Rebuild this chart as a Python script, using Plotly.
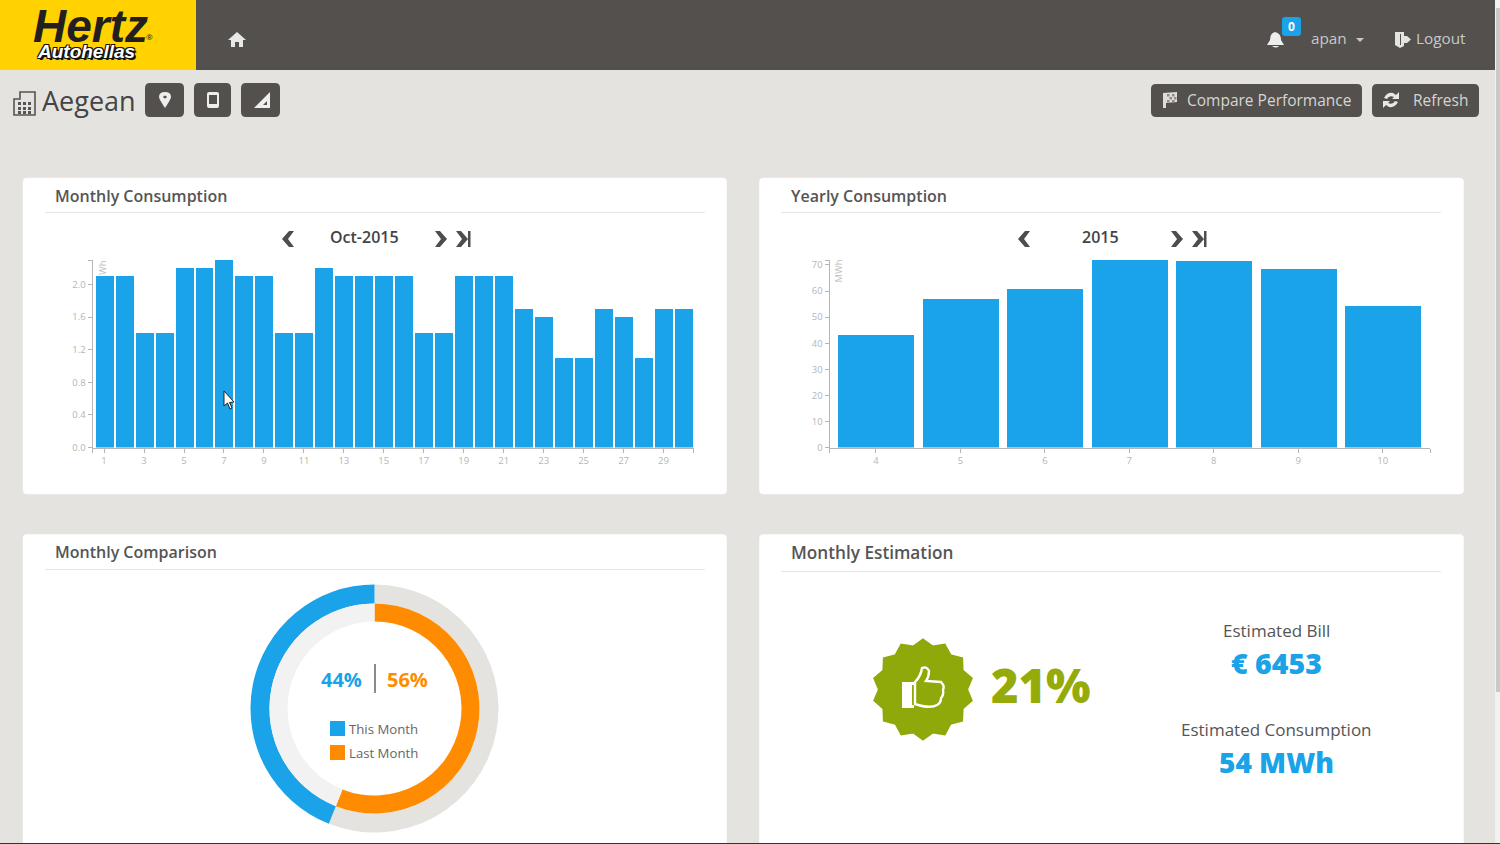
import math
import re
import plotly.graph_objects as go

days = list(range(1, 31))
monthly_kwh = [2.1, 2.1, 1.4, 1.4, 2.2, 2.2, 2.3, 2.1, 2.1, 1.4, 1.4, 2.2, 2.1, 2.1, 2.1,
               2.1, 1.4, 1.4, 2.1, 2.1, 2.1, 1.7, 1.6, 1.1, 1.1, 1.7, 1.6, 1.1, 1.7, 1.7]
months = [4, 5, 6, 7, 8, 9, 10]
yearly_mwh = [43.2, 57.1, 60.6, 72, 71.4, 68.5, 54.1]
this_month_pct = 44
last_month_pct = 56

day_ticks = [0.42, 1, 3, 5, 7, 9, 11, 13, 15, 17, 19, 21, 23, 25, 27, 29, 30.5]
day_labels = ['', '1', '3', '5', '7', '9', '11', '13', '15', '17', '19', '21', '23', '25', '27', '29', '']
kwh_ticks = [0, 0.4, 0.8, 1.2, 1.6, 2.0, 2.3]
kwh_labels = ['0.0', '0.4', '0.8', '1.2', '1.6', '2.0', '']
month_ticks = [3.45, 4, 5, 6, 7, 8, 9, 10, 10.56]
month_labels = ['', '4', '5', '6', '7', '8', '9', '10', '']
mwh_ticks = [0, 10, 20, 30, 40, 50, 60, 70, 71.9]
mwh_labels = ['0', '10', '20', '30', '40', '50', '60', '70', '']

W, H = 1500, 844
BLUE = '#1aa3e8'
ORANGE = '#ff8c00'
PAGE = '#e4e3df'
DARK = '#53504e'
ICON = '#4f4c4a'
LIGHT = '#d6d5d2'
GREEN = '#8fa80a'
FONT = 'Open Sans'


def px_x(x):
    return x / W


def px_y(y):
    return 1 - y / H


def to_paper(path):
    # path is written in page pixels, shapes want paper coordinates
    out = []
    nums = 0
    for tok in re.findall(r'[A-Za-z]|-?[\d.]+', path):
        if tok.isalpha():
            out.append(tok)
        else:
            v = float(tok)
            out.append(f'{px_x(v) if nums % 2 == 0 else px_y(v):.5f}')
            nums += 1
    return ' '.join(out)


shapes = []
annotations = []


def add_path(path, fill=None, line=None, width=0, layer='below'):
    shapes.append(dict(type='path', path=to_paper(path), xref='paper', yref='paper', layer=layer,
                       fillcolor=fill if fill else 'rgba(0,0,0,0)',
                       line=dict(color=line if line else 'rgba(0,0,0,0)', width=width)))


def rect(x0, y0, x1, y1, fill):
    shapes.append(dict(type='rect', xref='paper', yref='paper', layer='below',
                       x0=px_x(x0), x1=px_x(x1), y0=px_y(y0), y1=px_y(y1),
                       fillcolor=fill, line=dict(width=0)))


def round_rect(x0, y0, x1, y1, r, fill):
    add_path(f'M {x0+r} {y0} L {x1-r} {y0} Q {x1} {y0} {x1} {y0+r} L {x1} {y1-r} Q {x1} {y1} {x1-r} {y1} '
             f'L {x0+r} {y1} Q {x0} {y1} {x0} {y1-r} L {x0} {y0+r} Q {x0} {y0} {x0+r} {y0} Z', fill)


def text(x, y, s, size, color, anchor='left', weight=400, family=FONT, angle=0, style='normal', shadow=None):
    f = dict(family=family, size=size, color=color, weight=weight, style=style)
    if shadow:
        f['shadow'] = shadow
    annotations.append(dict(x=px_x(x), y=px_y(y), xref='paper', yref='paper', text=s, showarrow=False,
                            xanchor=anchor, yanchor='middle', textangle=angle, font=f,
                            borderpad=0, borderwidth=0))


# page frame
rect(0, 0, 1495, 70, DARK)
rect(0, 0, 196, 70, '#ffd200')
rect(1495, 0, W, H, '#f1f1f1')
rect(1496, 8, W, 692, '#c9c9c8')

# cards
for x0, y0, x1, y1 in [(23, 178, 726.5, 494), (759.5, 178, 1463.5, 494), (23, 534.5, 726.5, 860), (759.5, 534.5, 1463.5, 860)]:
    round_rect(x0 - 0.5, y0 - 0.5, x1 + 0.5, y1 + 0.5, 5, '#f2f1ee')
    round_rect(x0, y0, x1, y1, 4, '#ffffff')
rect(0, 843, W, H, '#333333')
rect(45, 212, 705, 213, '#e6e6e2')
rect(781, 212, 1441, 213, '#e6e6e2')
rect(45, 569, 705, 570, '#e6e6e2')
rect(781, 571, 1441, 572, '#e6e6e2')

text(55, 196, 'Monthly Consumption', 16, '#555555', weight=600)
text(791, 196, 'Yearly Consumption', 16, '#555555', weight=600)
text(55, 552, 'Monthly Comparison', 16, '#555555', weight=600)
text(791, 552.5, 'Monthly Estimation', 17.2, '#555555', weight=600)

# logo
text(33, 26.5, 'Hertz', 46, '#231f20', weight=800, style='italic', family='Liberation Sans')
text(37, 51, 'Autohellas', 19, '#ffffff', weight=800, style='italic', family='Liberation Sans',
     shadow='1px 1px 0 #111, -1px 1px 0 #111, 1px -1px 0 #111, -1px -1px 0 #111, 2px 2px 0 #111')
text(146, 36, '®', 8, '#231f20')

# top bar
add_path('M 237 32 L 246 40 L 243 40 L 243 47 L 239 47 L 239 42 L 235 42 L 235 47 L 231 47 L 231 40 L 228 40 Z', '#e8e8e6')
add_path('M 1275 32 Q 1281 33 1281 40 L 1284 45 L 1267 45 L 1270 40 Q 1270 33 1275 32 Z', '#eeeeec')
add_path('M 1272 46 L 1279 46 Q 1276 49 1272 46 Z', '#eeeeec')
round_rect(1282, 17, 1301, 36, 3, BLUE)
text(1291.5, 26.5, '0', 12, '#ffffff', anchor='center', weight=700)
text(1311, 38.5, 'apan', 15.3, '#c9c8c5')
add_path('M 1356 38 L 1364 38 L 1360 42 Z', '#c9c8c5')
add_path('M 1395 32 L 1404 32 L 1404 36 L 1407 36 L 1411 39.5 L 1407 43 L 1404 43 L 1404 46 L 1400 48 L 1395 45 Z', '#e4e3df')
rect(1400, 34, 1401, 45, DARK)
text(1416, 38.5, 'Logout', 15.3, '#c9c8c5')

# heading row
text(42, 100, 'Aegean', 27, '#444444')
add_path('M 14 115 L 14 99 L 20 99 L 20 92 L 35 92 L 35 115 Z', None, '#555555', 1.6)
for gx in (18, 23, 28):
    for gy in (102, 107, 111):
        rect(gx, gy, gx + 3, gy + 3, '#555555')
round_rect(145, 83, 184, 117, 5, DARK)
round_rect(194, 83, 231, 117, 5, DARK)
round_rect(241, 83, 280, 117, 5, DARK)
add_path('M 165 108 Q 159 99 159 97 Q 159 92 165 92 Q 171 92 171 97 Q 171 99 165 108 Z', '#eeeeec')
add_path('M 163 97 Q 165 94 167 97 Q 165 100 163 97 Z', DARK)
round_rect(207, 92, 219, 108, 2, '#eeeeec')
rect(209, 95, 217, 104, DARK)
add_path('M 270 92 L 270 108 L 254 108 Z', '#eeeeec')
add_path('M 267 101 L 267 105 L 263 105 Z', DARK)

round_rect(1151, 84, 1362, 117, 5, DARK)
round_rect(1372, 84, 1479, 117, 5, DARK)
add_path('M 1163 93 L 1177 92 L 1177 102 L 1166 103 L 1166 108 L 1163 108 Z', '#dddcd9')
for fx, fy in [(1167, 94), (1172, 94), (1169.5, 97), (1174, 97), (1167, 100), (1172, 100)]:
    rect(fx, fy, fx + 2.5, fy + 2.5, '#8c8a87')
text(1187, 100, 'Compare Performance', 15.5, LIGHT)
add_path('M 1384 98 Q 1387 92 1393 93 L 1396 95 L 1399 92 L 1399 99 L 1392 99 L 1394 97 Q 1389 95 1387 99 Z', '#e8e8e6')
add_path('M 1398 102 Q 1395 108 1389 107 L 1386 105 L 1383 108 L 1383 101 L 1390 101 L 1388 103 Q 1393 105 1395 101 Z', '#e8e8e6')
text(1413, 100, 'Refresh', 15.5, LIGHT)


# pagers
def chevron(cx, cy, left):
    s = -1 if left else 1
    add_path(f'M {cx-s*6} {cy-8} L {cx-s*1} {cy-8} L {cx+s*6} {cy} L {cx-s*1} {cy+8} L {cx-s*6} {cy+8} '
             f'L {cx+s*0} {cy} Z', ICON)


for left_x, right_x, end_x in [(288, 441, 462), (1024, 1177, 1198)]:
    chevron(left_x, 239, True)
    chevron(right_x, 239, False)
    chevron(end_x, 239, False)
    rect(end_x + 6, 231, end_x + 8.5, 247, ICON)
text(364.5, 237, 'Oct-2015', 16, '#444444', anchor='center', weight=600)
text(1100.5, 237, '2015', 16, '#444444', anchor='center', weight=600)

# unit labels
text(102, 268, 'Wh', 9.5, '#bbbbbb', anchor='center', angle=-90)
text(838.5, 271, 'MWh', 9.5, '#bbbbbb', anchor='center', angle=-90)

# donut centre
text(341, 679, f'{this_month_pct}%', 20, BLUE, anchor='center', weight=700)
text(407.5, 679, f'{last_month_pct}%', 20, ORANGE, anchor='center', weight=700)
rect(374, 664, 376, 693, '#8a8a8a')
rect(330, 721, 345, 736, BLUE)
rect(330, 745, 345, 760, ORANGE)
text(349, 728.5, 'This Month', 13.2, '#666666')
text(349, 752.5, 'Last Month', 13.2, '#666666')

# estimation panel
badge = []
for i in range(28):
    r = 50 if i % 2 == 0 else 44
    a = math.pi * 2 * i / 28 - math.pi / 2
    badge.append((923 + r * math.cos(a), 689.5 + r * math.sin(a)))
add_path('M ' + ' L '.join(f'{x:.1f} {y:.1f}' for x, y in badge) + ' Z', GREEN, GREEN, 2)
rect(902, 682, 914, 708, '#ffffff')
rect(912, 685, 914, 705, GREEN)
add_path('M 915 682 Q 921 676 922 668 Q 927 666 929 671 Q 929 677 926 681 L 941 682 Q 945 686 943 690 '
         'Q 944 695 941 698 Q 941 703 937 705 Q 930 709 915 704 Z', GREEN, '#ffffff', 2.4)
text(990.5, 685, '21%', 47, '#95ab0a', weight=800)
text(1276, 630, 'Estimated Bill', 17, '#555555', anchor='center')
text(1276, 663, '€ 6453', 28.5, BLUE, anchor='center', weight=800)
text(1276, 729, 'Estimated Consumption', 17, '#555555', anchor='center')
text(1276, 762, '54 MWh', 28, BLUE, anchor='center', weight=800)

# mouse pointer over the first chart
add_path('M 224 391 L 224 406 L 227.5 403 L 230 409 L 232 408 L 229.5 402.5 L 234 402 Z',
         '#ffffff', '#222222', 1, layer='above')

fig = go.Figure()

fig.add_trace(go.Bar(x=days, y=monthly_kwh, width=0.9, marker=dict(color=BLUE, line=dict(width=0)),
                     xaxis='x', yaxis='y', showlegend=False))
fig.add_trace(go.Bar(x=months, y=yearly_mwh, width=0.9, marker=dict(color=BLUE, line=dict(width=0)),
                     xaxis='x2', yaxis='y2', showlegend=False))

# outer ring: blue is the last slice so it ends at the top, on the left hand side
outer_r, mid_r, inner_r = 124, 105, 87
cx, cy = 374.5, 708.5
fig.add_trace(go.Pie(values=[last_month_pct, this_month_pct], labels=['rest', 'This Month'], sort=False,
                     direction='clockwise', rotation=0, hole=mid_r / outer_r,
                     marker=dict(colors=[PAGE, BLUE], line=dict(width=0)), textinfo='none', showlegend=False,
                     domain=dict(x=[px_x(cx - outer_r), px_x(cx + outer_r)], y=[px_y(cy + outer_r), px_y(cy - outer_r)])))
fig.add_trace(go.Pie(values=[last_month_pct, this_month_pct], labels=['Last Month', 'rest'], sort=False,
                     direction='clockwise', rotation=0, hole=inner_r / mid_r,
                     marker=dict(colors=[ORANGE, '#f2f2f2'], line=dict(width=0)), textinfo='none', showlegend=False,
                     domain=dict(x=[px_x(cx - mid_r), px_x(cx + mid_r)], y=[px_y(cy + mid_r), px_y(cy - mid_r)])))

axis_style = dict(showgrid=False, zeroline=False, showline=True, linecolor='#b5b5b5', linewidth=1,
                  ticks='outside', ticklen=4, tickwidth=1, tickcolor='#b5b5b5', fixedrange=True,
                  automargin=False, tickfont=dict(family=FONT, size=9.5, color='#b5b5b5'), tickmode='array')

fig.update_layout(
    width=W, height=H, margin=dict(l=0, r=0, t=0, b=0, pad=0), autosize=False,
    paper_bgcolor=PAGE, plot_bgcolor='rgba(0,0,0,0)', showlegend=False, bargap=0,
    shapes=shapes, annotations=annotations,
    xaxis=dict(axis_style, domain=[px_x(92.5), px_x(693.5)], range=[0.42, 30.5], anchor='y',
               tickvals=day_ticks, ticktext=day_labels, tickangle=0),
    yaxis=dict(axis_style, domain=[px_y(447.5), px_y(260)], range=[0, 2.3], anchor='x',
               tickvals=kwh_ticks, ticktext=kwh_labels),
    xaxis2=dict(axis_style, domain=[px_x(829.5), px_x(1430)], range=[3.45, 10.56], anchor='y2',
                tickvals=month_ticks, ticktext=month_labels, tickangle=0),
    yaxis2=dict(axis_style, domain=[px_y(447.5), px_y(260)], range=[0, 71.9], anchor='x2',
                tickvals=mwh_ticks, ticktext=mwh_labels),
)

fig.write_html('out.html', config=dict(displayModeBar=False),
               post_script="document.body.style.margin='0';document.body.style.overflow='hidden';")
